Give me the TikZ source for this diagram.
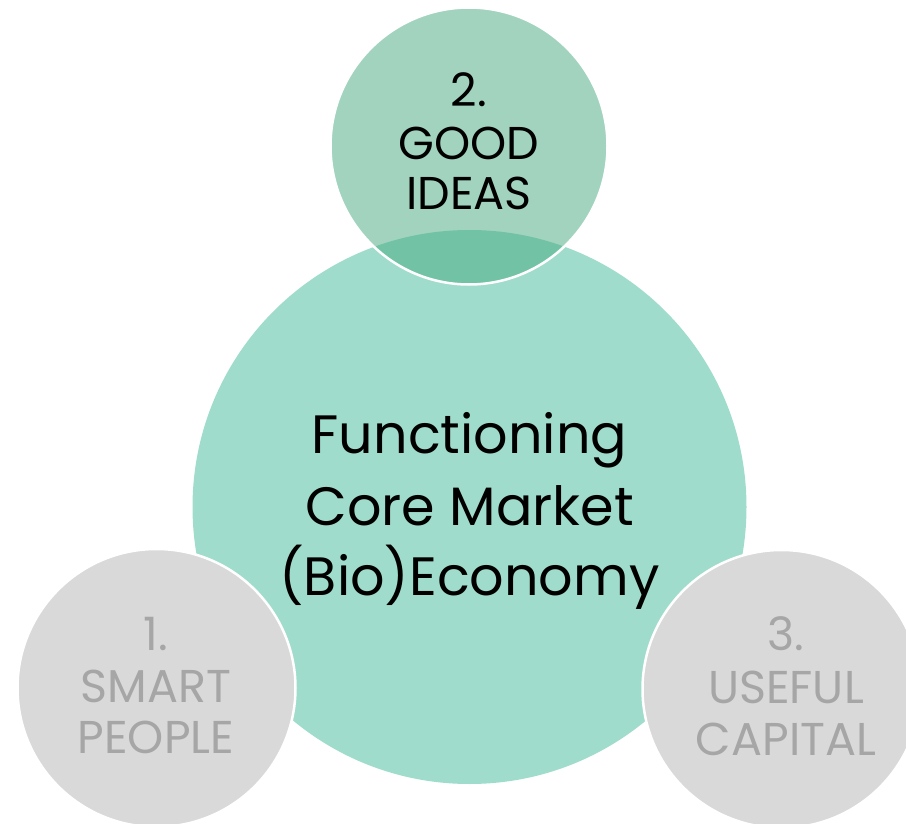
\documentclass[tikz,border=0pt]{standalone}
\usepackage{fontspec}
\setmainfont{Poppins}
\definecolor{mint}{HTML}{A0DCCB}
\definecolor{topg}{HTML}{A1D3BF}
\definecolor{overl}{HTML}{72C3A5}
\definecolor{lgray}{HTML}{D9D9D9}
\definecolor{tgray}{HTML}{A6A6A6}
\tikzset{
  bigtxt/.style={anchor=base, inner sep=0pt, text=black, font=\fontsize{54}{60}\selectfont},
  smtxt/.style={anchor=base, inner sep=0pt, font=\fontsize{46}{52}\selectfont},
  ring/.style={draw=white, line width=2.5pt},
}
\begin{document}
\begin{tikzpicture}[x=1pt,y=-1pt]
\useasboundingbox (0,0) rectangle (906,824);
% central circle
\fill[mint] (469.5,507) circle (277);
% top circle
\fill[topg] (469,146) circle (138.5);
\begin{scope}
  \clip (469.5,507) circle (277);
  \fill[overl] (469,146) circle (138.5);
\end{scope}
\draw[ring] (469,146) circle (138.5);
% left circle
\fill[lgray] (156.5,688) circle (139);
\draw[ring] (156.5,688) circle (139);
% right circle
\fill[lgray] (781.5,689) circle (139);
\draw[ring] (781.5,689) circle (139);
% texts
\node[bigtxt] (c1) at (469.5,453) {Functioning};
\node[bigtxt] (c2) at (469.5,525) {Core Market};
\node[bigtxt] (c3) at (469.5,595) {(Bio)Economy};
\node[smtxt, text=black] (t1) at (469,107) {2.};
\node[smtxt, text=black] (t2) at (469,160) {GOOD};
\node[smtxt, text=black] (t3) at (469,210) {IDEAS};
\node[smtxt, text=tgray] (l1) at (156,650) {1.};
\node[smtxt, text=tgray] (l2) at (156,702) {SMART};
\node[smtxt, text=tgray] (l3) at (156,753) {PEOPLE};
\node[smtxt, text=tgray] (r1) at (786,650) {3.};
\node[smtxt, text=tgray] (r2) at (786,703) {USEFUL};
\node[smtxt, text=tgray] (r3) at (786,755) {CAPITAL};
\end{tikzpicture}
\end{document}
